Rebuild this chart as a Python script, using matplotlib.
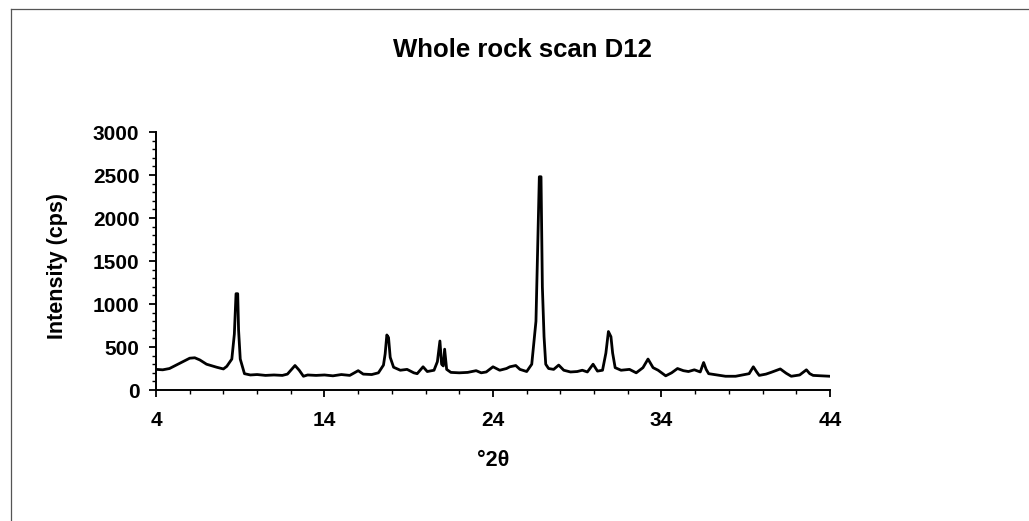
import matplotlib
matplotlib.use("Agg")
import matplotlib.pyplot as plt
from matplotlib.lines import Line2D
from matplotlib.ticker import MultipleLocator

# scan data
two_theta = [4.0, 4.4, 4.8, 5.2, 5.6, 6.0, 6.3, 6.6, 7.0, 7.6, 8.0, 8.2, 8.5, 8.65,
             8.75, 8.85, 8.9, 9.0, 9.25, 9.6, 10.0, 10.5, 11.0, 11.5, 11.8, 12.25,
             12.5, 12.75, 13.0, 13.5, 14.0, 14.5, 15.0, 15.5, 16.0, 16.3, 16.8,
             17.2, 17.5, 17.6, 17.7, 17.8, 17.9, 18.1, 18.5, 18.9, 19.3, 19.5,
             19.85, 20.1, 20.5, 20.7, 20.85, 20.95, 21.05, 21.13, 21.25, 21.5,
             22.0, 22.5, 23.0, 23.3, 23.6, 24.0, 24.4, 24.8, 25.0, 25.35, 25.6,
             26.0, 26.3, 26.55, 26.75, 26.85, 26.93, 27.03, 27.13, 27.3, 27.6,
             27.9, 28.2, 28.6, 29.0, 29.3, 29.6, 29.94, 30.2, 30.5, 30.7, 30.85,
             31.0, 31.1, 31.25, 31.6, 32.1, 32.5, 32.9, 33.2, 33.5, 33.8, 34.25,
             34.6, 34.95, 35.3, 35.6, 35.95, 36.3, 36.5, 36.65, 36.8, 37.3, 37.8,
             38.4, 38.8, 39.2, 39.45, 39.65, 39.8, 40.2, 40.5, 41.05, 41.4, 41.7,
             42.2, 42.6, 42.8, 43.0, 43.5, 44.0]
intensity = [240, 235, 250, 290, 330, 370, 375, 350, 300, 265, 245, 275, 360, 650,
             1120, 1120, 700, 360, 190, 175, 180, 170, 175, 170, 185, 285,
             230, 160, 175, 170, 175, 165, 180, 170, 225, 185, 180,
             200, 290, 420, 640, 610, 380, 265, 230, 240, 200, 190,
             270, 215, 230, 330, 570, 300, 280, 475, 240, 205,
             200, 205, 225, 200, 210, 270, 230, 250, 270, 285, 240,
             215, 300, 800, 2480, 2480, 1200, 620, 300, 250, 240,
             290, 230, 210, 215, 230, 210, 300, 220, 230, 430, 680,
             620, 430, 260, 230, 240, 200, 260, 360, 260, 230, 165,
             200, 250, 225, 215, 235, 210, 320, 240, 190, 175, 160,
             160, 175, 190, 270, 210, 170, 185, 205, 245, 195, 160,
             175, 235, 190, 170, 165, 160]

x_ticks = [4, 14, 24, 34, 44]
y_ticks = [0, 500, 1000, 1500, 2000, 2500, 3000]

plt.rcParams["font.family"] = ["Liberation Sans", "DejaVu Sans"]
plt.rcParams["font.weight"] = "bold"

fig = plt.figure(figsize=(10.29, 5.21), dpi=100)
ax = fig.add_axes([0.1516, 0.2514, 0.655, 0.4952])

ax.plot(two_theta, intensity, color="black", lw=2.0)

ax.set_xlim(4, 44)
ax.set_ylim(0, 3000)
ax.set_xticks(x_ticks)
ax.set_yticks(y_ticks)
ax.xaxis.set_minor_locator(MultipleLocator(2))
ax.yaxis.set_minor_locator(MultipleLocator(100))
ax.tick_params(which="major", direction="out", length=5, width=1.3, labelsize=15)
ax.tick_params(axis="x", which="major", pad=10)
ax.tick_params(axis="y", which="major", pad=7)
ax.tick_params(which="minor", direction="out", length=3, width=1.0)
for lbl in ax.get_xticklabels() + ax.get_yticklabels():
    lbl.set_fontweight("bold")

for side in ["top", "right"]:
    ax.spines[side].set_visible(False)
for side in ["left", "bottom"]:
    ax.spines[side].set_linewidth(1.4)

# title and axis titles placed like the Excel chart
fig.text(0.508, 0.8906, "Whole rock scan D12", fontsize=18.5, fontweight="bold",
         ha="center", va="baseline")
fig.text(0.479, 0.106, "°2θ", fontsize=15.5, fontweight="bold",
         ha="center", va="baseline")
fig.text(0.0559, 0.49, "Intensity (cps)", fontsize=15.5, fontweight="bold",
         ha="center", va="center", rotation=90)

# thin frame lines on the left and top edges
fig.add_artist(Line2D([0.0107, 0.0107], [0.0, 0.9827], color="#555555", lw=0.9))
fig.add_artist(Line2D([0.0107, 1.0], [0.9827, 0.9827], color="#555555", lw=0.9))

plt.savefig("out.png", dpi=100)
